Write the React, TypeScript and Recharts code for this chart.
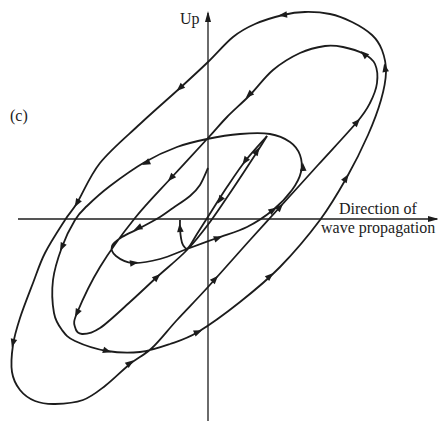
import React from "react";
import { ComposedChart, Line, XAxis, YAxis } from "recharts";

// Coordinates: x along wave direction, y up (origin at axis crossing)
const spiralMain = [
  { x: 0, y: 51 }, { x: -8, y: 34 }, { x: -18, y: 23 }, { x: -35, y: 11 }, { x: -48, y: 2 },
  { x: -68, y: -9 }, { x: -86, y: -18 }, { x: -96, y: -27 }, { x: -92, y: -37 }, { x: -75, y: -44 },
  { x: -48, y: -40 }, { x: -21, y: -30 }, { x: 9, y: -19 }, { x: 39, y: -8 }, { x: 65, y: 9 },
  { x: 84, y: 29 }, { x: 93, y: 47 }, { x: 92, y: 64 }, { x: 82, y: 77 }, { x: 62, y: 85 },
  { x: 32, y: 85 }, { x: -1, y: 80 }, { x: -31, y: 72 }, { x: -63, y: 57 }, { x: -98, y: 33 },
  { x: -121, y: 13 }, { x: -133, y: -1 }, { x: -146, y: -28 }, { x: -155, y: -61 }, { x: -154, y: -94 },
  { x: -146, y: -111 }, { x: -133, y: -122 }, { x: -101, y: -132 }, { x: -68, y: -133 }, { x: -38, y: -125 },
  { x: -10, y: -113 }, { x: 32, y: -83 }, { x: 72, y: -48 }, { x: 112, y: -1 }, { x: 139, y: 42 },
  { x: 160, y: 84 }, { x: 173, y: 119 }, { x: 178, y: 147 }, { x: 174, y: 169 }, { x: 164, y: 184 },
  { x: 144, y: 197 }, { x: 122, y: 205 }, { x: 97, y: 207 }, { x: 75, y: 204 }, { x: 47, y: 195 },
  { x: 25, y: 182 }, { x: 0, y: 157 }, { x: -28, y: 131 }, { x: -68, y: 95 }, { x: -108, y: 56 },
  { x: -131, y: 16 }, { x: -143, y: -1 }, { x: -163, y: -34 }, { x: -175, y: -64 }, { x: -188, y: -99 },
  { x: -195, y: -126 }, { x: -196, y: -153 }, { x: -188, y: -171 }, { x: -173, y: -182 }, { x: -153, y: -185 },
  { x: -125, y: -181 }, { x: -103, y: -167 }, { x: -78, y: -145 }, { x: -56, y: -129 }, { x: -31, y: -101 },
  { x: 0, y: -68 }, { x: 42, y: -21 }, { x: 72, y: 12 }, { x: 110, y: 54 }, { x: 149, y: 97 },
  { x: 162, y: 116 }, { x: 169, y: 136 }, { x: 167, y: 155 }, { x: 156, y: 165 }, { x: 135, y: 172 },
  { x: 117, y: 173 }, { x: 92, y: 166 }, { x: 65, y: 149 }, { x: 42, y: 124 }, { x: 19, y: 102 },
  { x: 0, y: 81 }, { x: -36, y: 42 }, { x: -73, y: 1 }, { x: -108, y: -48 }, { x: -131, y: -94 },
  { x: -133, y: -108 }, { x: -126, y: -115 }, { x: -108, y: -109 }, { x: -78, y: -83 }, { x: -51, y: -58 },
  { x: -21, y: -31 }, { x: 2, y: -3 }, { x: 24, y: 29 }, { x: 49, y: 67 }, { x: 59, y: 83 },
];

const spiralReturn = [
  { x: 59, y: 83 }, { x: 38, y: 59 }, { x: 19, y: 32 }, { x: 3, y: 7 }, { x: -11, y: -15 },
  { x: -20, y: -29 }, { x: -25, y: -26 }, { x: -27, y: -19 }, { x: -28, y: -9 }, { x: -28, y: -1 },
];

const arrowMarks = [
  { x: 75, y: 204 }, { x: -28, y: 131 }, { x: -131, y: 16 }, { x: -195, y: -124 }, { x: -78, y: -144 },
  { x: 62, y: -57 }, { x: 138, y: 41 }, { x: 177, y: 151 }, { x: 7, y: -60 }, { x: 72, y: 12 },
  { x: 149, y: 97 }, { x: 156, y: 165 }, { x: 41, y: 124 }, { x: -37, y: 41 }, { x: -131, y: -94 },
  { x: -51, y: -58 }, { x: -10, y: -113 }, { x: -101, y: -132 }, { x: -146, y: -28 }, { x: -62, y: 56 },
  { x: 95, y: 52 }, { x: 65, y: 9 }, { x: 10, y: -19 }, { x: -74, y: -44 }, { x: -70, y: -9 },
  { x: 37, y: 58 }, { x: 49, y: 68 }, { x: 12, y: 19 }, { x: -28, y: -9 },
];

const verticalAxis = [{ x: 0, y: -202 }, { x: 0, y: 206 }];
const horizontalAxis = [{ x: -190, y: 0 }, { x: 229, y: 0 }];
const axisTips = [{ x: 0, y: 206 }, { x: 229, y: 0 }];

const INK = "#1c1c1c";

const catmullRom = (context: any) => {
  let pts: number[][] = [];
  return {
    areaStart() {},
    areaEnd() {},
    lineStart() {
      pts = [];
    },
    point(x: number, y: number) {
      pts.push([+x, +y]);
    },
    lineEnd() {
      if (!pts.length) return;
      context.moveTo(pts[0][0], pts[0][1]);
      for (let i = 0; i < pts.length - 1; i++) {
        const p0 = pts[i - 1] || pts[i];
        const p1 = pts[i];
        const p2 = pts[i + 1];
        const p3 = pts[i + 2] || p2;
        context.bezierCurveTo(
          p1[0] + (p2[0] - p0[0]) / 6,
          p1[1] + (p2[1] - p0[1]) / 6,
          p2[0] - (p3[0] - p1[0]) / 6,
          p2[1] - (p3[1] - p1[1]) / 6,
          p2[0],
          p2[1]
        );
      }
    },
  };
};

function headingAt(px: number, py: number): number {
  let best = Infinity;
  let ang = 0;
  for (const seg of [spiralMain, spiralReturn]) {
    for (let i = 0; i < seg.length - 1; i++) {
      const a = seg[i];
      const b = seg[i + 1];
      const dx = b.x - a.x;
      const dy = b.y - a.y;
      const len2 = dx * dx + dy * dy || 1;
      let t = ((px - a.x) * dx + (py - a.y) * dy) / len2;
      t = Math.max(0, Math.min(1, t));
      const qx = a.x + t * dx - px;
      const qy = a.y + t * dy - py;
      const d = qx * qx + qy * qy;
      if (d < best) {
        best = d;
        ang = (Math.atan2(-dy, dx) * 180) / Math.PI;
      }
    }
  }
  return ang;
}

const ArrowHead = (props: any) => {
  const { cx, cy, payload, index } = props;
  if (cx == null || cy == null || !payload) return <g key={`a${index}`} />;
  const ang = headingAt(payload.x, payload.y);
  return (
    <polygon
      key={`a${index}`}
      points="4.5,0 -4,-3.3 -4,3.3"
      transform={`translate(${cx},${cy}) rotate(${ang})`}
      fill={INK}
      stroke="none"
    />
  );
};

const AxisHead = (props: any) => {
  const { cx, cy, payload, index } = props;
  if (cx == null || cy == null || !payload) return <g key={`t${index}`} />;
  const ang = (Math.atan2(-payload.y, payload.x) * 180) / Math.PI;
  return (
    <polygon
      key={`t${index}`}
      points="2,0 -9,-3 -9,3"
      transform={`translate(${cx},${cy}) rotate(${ang})`}
      fill={INK}
      stroke="none"
    />
  );
};

const textStyle: React.CSSProperties = {
  fontFamily: "'Liberation Serif', 'DejaVu Serif', serif",
  fontSize: 16,
  fill: INK,
};

export default function App() {
  return (
    <div style={{ position: "absolute", left: 0, top: 0, width: 438, height: 421, background: "#fff" }}>
      <ComposedChart width={438} height={421} margin={{ top: 0, right: 0, bottom: 0, left: 0 }}>
        <XAxis type="number" dataKey="x" domain={[-208, 230]} allowDataOverflow hide />
        <YAxis type="number" dataKey="y" domain={[-202, 219]} allowDataOverflow hide />
        <Line data={verticalAxis} dataKey="y" type="linear" stroke={INK} strokeWidth={1.3} dot={false} activeDot={false} isAnimationActive={false} />
        <Line data={horizontalAxis} dataKey="y" type="linear" stroke={INK} strokeWidth={1.3} dot={false} activeDot={false} isAnimationActive={false} />
        <Line data={spiralMain} dataKey="y" type={catmullRom as any} stroke={INK} strokeWidth={1.8} dot={false} activeDot={false} isAnimationActive={false} />
        <Line data={spiralReturn} dataKey="y" type={catmullRom as any} stroke={INK} strokeWidth={1.8} dot={false} activeDot={false} isAnimationActive={false} />
        <Line data={arrowMarks} dataKey="y" type="linear" stroke="none" strokeWidth={0} dot={ArrowHead} activeDot={false} isAnimationActive={false} />
        <Line data={axisTips} dataKey="y" type="linear" stroke="none" strokeWidth={0} dot={AxisHead} activeDot={false} isAnimationActive={false} />
      </ComposedChart>
      <svg width={438} height={421} style={{ position: "absolute", left: 0, top: 0, pointerEvents: "none" }}>
        <text x={180} y={24} style={textStyle}>Up</text>
        <text x={10} y={121} style={textStyle}>(c)</text>
        <text x={339} y={214} style={textStyle}>Direction of</text>
        <text x={321} y={233} style={textStyle}>wave propagation</text>
      </svg>
    </div>
  );
}
